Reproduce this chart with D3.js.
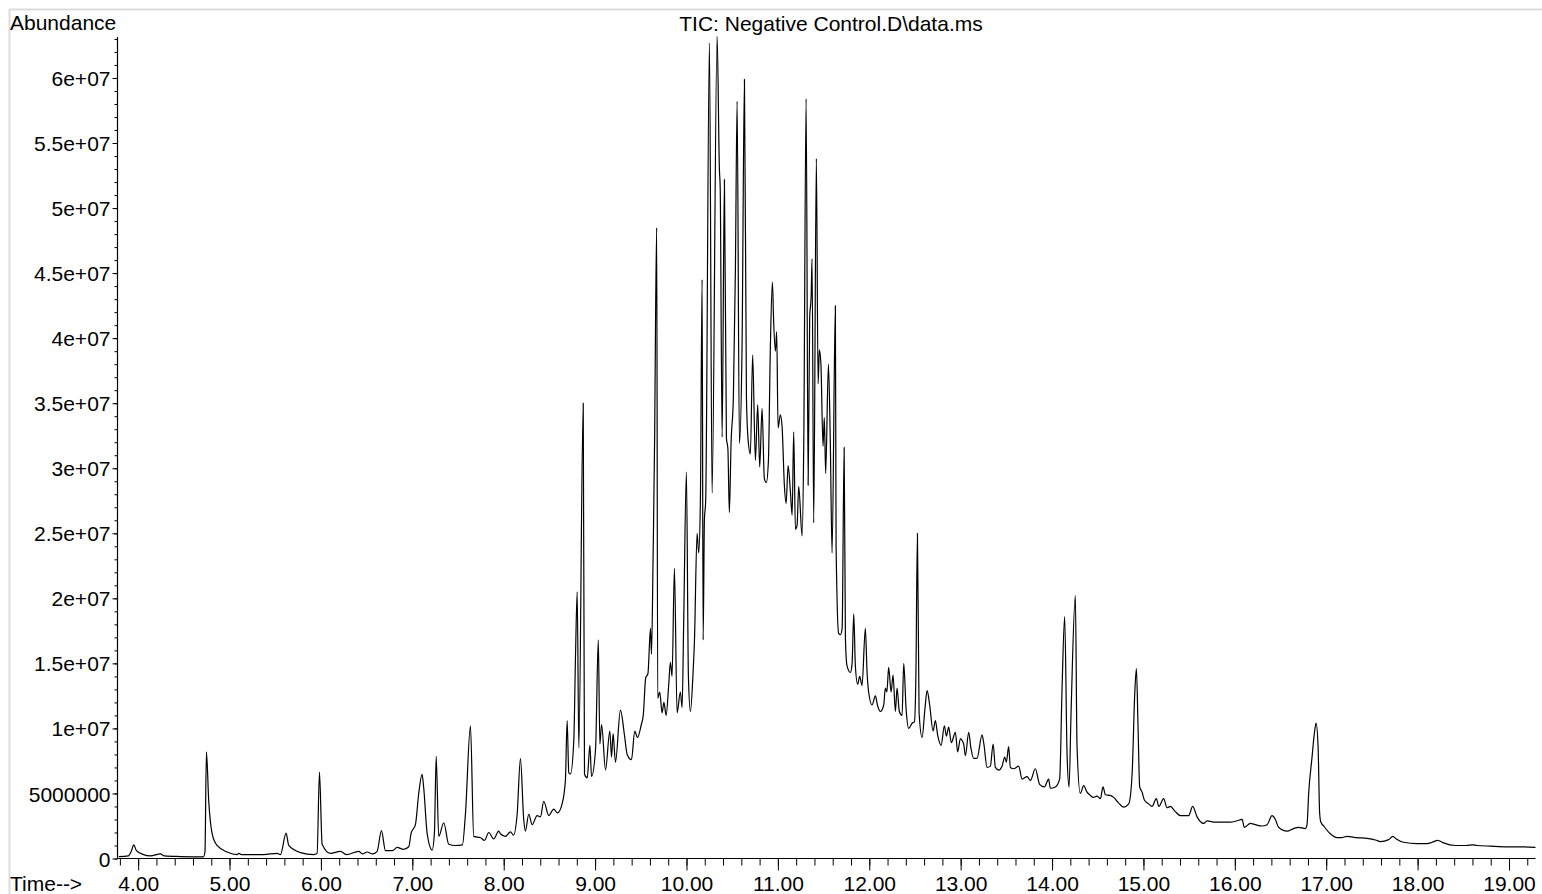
<!DOCTYPE html>
<html>
<head>
<meta charset="utf-8">
<script src="https://cdn.jsdelivr.net/npm/d3@7"></script>
<style>
  html, body { margin: 0; padding: 0; background: #fff; }
  svg { display: block; }
  text { font-family: "Liberation Sans", Arial, sans-serif; fill: #000; }
</style>
</head>
<body>
<svg id="chart" width="1542" height="894"></svg>
<script>
// ---- data (retention time in minutes, abundance in millions) ----
const rtMin = [
3.788,3.894,3.927,3.952,3.981,4.058,4.135,4.244,4.288,4.463,4.714,4.731,4.747,4.772,4.810,4.864,4.974,5.083,5.103,5.130,
5.371,5.521,5.557,5.619,5.648,5.776,5.921,5.958,5.984,6.013,6.104,6.213,6.279,6.414,6.454,6.506,6.564,6.615,6.662,6.706,
6.782,6.834,6.903,6.961,6.987,7.034,7.070,7.107,7.125,7.162,7.217,7.242,7.261,7.289,7.344,7.398,7.472,7.548,7.581,7.636,
7.672,7.747,7.790,7.836,7.891,7.945,
7.964,8.019,8.074,8.107,8.147,8.183,8.219,8.237,8.274,8.311,8.366,8.402,8.438,8.493,8.547,8.588,8.639,8.675,8.694,8.712,
8.731,8.767,8.786,8.804,8.822,8.870,8.884,8.914,8.943,8.961,9.005,9.035,9.052,9.071,9.114,9.161,9.180,9.197,9.223,9.277,
9.321,9.351,9.398,9.434,9.464,9.506,9.527,9.554,9.578,9.606,9.617,9.635,9.652,9.660,9.674,9.685,9.707,9.733,9.753,9.777,
9.805,9.824,9.842,9.868,9.897,9.933,9.952,9.969,9.999,10.021,10.043,10.072,10.087,10.116,10.134,10.152,10.171,10.182,10.196,10.210,
10.251,10.280,10.335,10.360,10.369,10.390,10.415,10.437,10.453,10.469,10.488,10.513,10.535,10.554,10.579,10.608,10.634,10.656,10.674,10.699,
10.724,10.754,10.779,10.801,10.827,10.852,10.874,10.896,10.918,10.940,10.954,10.973,10.987,11.002,11.027,11.046,11.071,11.090,11.112,11.137,
11.156,11.173,11.192,11.210,11.228,11.265,11.283,11.309,11.331,11.348,11.364,11.374,11.392,11.421,11.440,11.454,11.471,11.494,11.508,11.523,
11.553,11.574,11.593,11.629,11.637,11.665,11.684,11.703,11.725,11.739,11.757,11.793,11.812,11.830,11.848,11.873,11.895,11.921,11.957,11.976,
11.993,12.031,12.067,12.089,12.122,12.158,12.176,12.193,12.212,12.239,12.260,12.286,12.304,12.329,12.359,12.377,12.403,12.431,12.468,12.494,
12.510,12.527,12.545,12.578,12.609,12.633,12.661,12.698,12.723,12.748,12.786,12.822,12.844,12.869,12.898,12.942,12.967,12.997,13.033,13.052,
13.088,13.112,13.142,13.179,13.234,13.254,13.289,13.325,13.355,13.380,13.416,13.453,13.482,13.500,13.525,13.544,13.580,13.635,13.672,13.727,
13.763,13.817,13.864,13.916,13.963,13.981,14.036,14.083,14.110,14.138,14.164,14.186,14.208,14.255,14.273,14.309,14.346,14.383,14.419,14.452,
14.493,14.529,14.558,14.584,14.637,14.674,14.725,14.784,14.839,14.876,14.905,14.923,14.941,14.959,14.985,15.010,15.057,15.094,15.141,15.169,
15.221,15.258,15.294,15.349,15.404,15.459,15.495,15.539,15.587,15.659,15.696,15.768,15.878,15.951,16.024,16.079,16.104,16.170,16.224,16.298,
16.353,16.407,16.444,16.479,16.571,16.643,16.698,16.771,16.790,16.808,16.845,16.870,16.889,16.911,16.928,16.941,16.972,17.045,17.118,17.165,
17.228,17.337,17.447,17.549,17.592,17.683,17.729,17.767,17.847,17.994,18.103,18.161,18.221,18.283,18.413,18.534,18.600,18.650,18.795,18.982,
19.163,19.290
];
const abundanceM = [
0.15,0.2,0.6,1.05,0.6,0.3,0.2,0.35,0.2,0.15,0.12,0.5,8.2,4.46,1.9,1.0,0.5,0.3,0.4,0.3,
0.3,0.4,0.3,1.95,1.0,0.45,0.3,0.4,6.64,1.1,0.4,0.55,0.3,0.55,0.35,0.5,0.35,0.55,2.15,0.6,
0.6,0.85,0.7,0.9,1.95,2.6,5.0,6.46,5.4,1.95,0.65,2.0,7.85,1.7,2.75,1.1,1.0,1.05,3.4,10.2,
1.7,1.6,1.4,2.0,1.5,2.1,
1.9,1.7,2.05,1.8,3.4,7.67,3.0,2.1,3.4,2.6,3.3,3.2,4.4,3.3,3.8,3.5,4.2,6.0,10.6,6.6,
6.5,9.1,15.7,20.5,8.5,35.0,6.5,6.2,8.7,6.3,8.4,16.8,8.8,10.3,6.8,9.8,7.8,9.6,7.4,11.4,
9.5,8.0,7.6,9.8,9.3,10.3,11.0,13.9,14.2,17.7,15.7,23.4,32.7,40.0,48.5,12.3,12.8,11.2,12.0,11.0,
13.3,15.1,14.0,22.3,11.2,12.8,11.6,18.0,29.7,14.0,11.3,14.3,16.7,25.0,23.5,27.5,44.5,16.8,26.0,27.5,
62.7,28.1,63.2,53.0,51.5,32.4,52.2,32.3,31.5,26.6,32.0,35.5,45.2,58.2,31.9,39.4,59.9,35.5,32.2,31.1,
38.7,30.6,34.9,30.1,34.6,29.2,28.9,30.5,39.4,44.3,41.2,39.0,40.5,33.1,34.1,33.2,28.7,27.3,30.2,28.2,
26.4,32.8,25.3,25.6,28.6,24.8,31.8,58.4,28.7,41.6,43.2,46.1,25.8,53.8,36.5,39.1,38.0,31.7,33.9,29.6,
38.0,31.9,23.5,42.5,24.0,17.3,17.2,17.7,31.6,16.9,14.8,14.3,15.0,18.8,14.8,13.4,14.0,13.3,17.7,14.3,
12.8,11.8,12.5,11.8,11.3,11.8,13.1,12.8,14.7,12.8,14.1,11.3,13.1,11.3,11.0,15.0,11.5,10.0,10.4,10.5,
14.0,25.0,11.2,9.3,11.5,12.9,11.8,9.8,10.6,9.5,8.7,10.2,9.4,10.1,8.9,9.7,8.2,9.2,8.8,7.9,
9.7,8.5,7.7,7.7,9.5,8.8,7.0,7.1,8.8,7.0,6.8,7.1,7.8,7.4,8.6,7.0,6.9,7.1,6.1,6.3,
6.0,6.9,5.7,5.5,6.1,5.4,5.5,6.1,13.2,18.6,8.1,5.5,11.2,20.2,8.7,5.0,5.6,5.1,4.85,4.7,
4.8,4.6,5.5,4.9,4.85,4.7,4.3,3.95,4.2,6.5,12.7,14.6,10.1,5.5,5.1,4.5,4.2,4.0,4.6,4.0,
4.6,3.9,4.0,3.6,3.3,3.3,3.3,4.0,3.2,2.7,2.9,2.8,2.8,2.8,2.9,3.0,2.4,2.7,2.6,2.5,
2.6,3.3,3.0,2.4,2.1,2.3,2.4,2.3,2.6,5.0,7.8,9.6,10.4,8.6,3.5,2.8,2.5,1.9,1.6,1.6,
1.7,1.6,1.55,1.4,1.3,1.45,1.7,1.5,1.25,1.15,1.15,1.25,1.4,1.2,1.0,1.0,1.05,1.0,0.95,0.9,
0.9,0.85
];
const xMajorTicks = [4,5,6,7,8,9,10,11,12,13,14,15,16,17,18,19];
const xTickLabels = ["4.00","5.00","6.00","7.00","8.00","9.00","10.00","11.00","12.00","13.00","14.00","15.00","16.00","17.00","18.00","19.00"];
const yMajorTicks = [0,5e6,1e7,1.5e7,2e7,2.5e7,3e7,3.5e7,4e7,4.5e7,5e7,5.5e7,6e7];
const yTickLabels = ["0","5000000","1e+07","1.5e+07","2e+07","2.5e+07","3e+07","3.5e+07","4e+07","4.5e+07","5e+07","5.5e+07","6e+07"];
const titleText = "TIC: Negative Control.D\\data.ms";
const yAxisTitle = "Abundance";
const xAxisTitle = "Time-->";

// ---- layout ----
const svg = d3.select("#chart");
const FS = 21;
const x = d3.scaleLinear().domain([3.774, 19.29]).range([117.5, 1535.5]);
const y = d3.scaleLinear().domain([0, 63.15e6]).range([858.5, 37]);

// light frame
svg.append("line").attr("x1", 9).attr("x2", 1542).attr("y1", 9.5).attr("y2", 9.5)
  .attr("stroke", "#dcdcdc").attr("stroke-width", 2);
svg.append("line").attr("x1", 9.5).attr("x2", 9.5).attr("y1", 9).attr("y2", 894)
  .attr("stroke", "#dcdcdc").attr("stroke-width", 2);

// x axis
const xAxisG = svg.append("g").attr("transform", `translate(0,${y(0)})`);
xAxisG.call(d3.axisBottom(x).tickValues(d3.range(3.8, 19.3, 0.2)).tickSize(7).tickFormat(""))
  .call(g => g.select(".domain").remove());
const xAxisMaj = svg.append("g").attr("transform", `translate(0,${y(0)})`);
xAxisMaj.call(d3.axisBottom(x).tickValues(xMajorTicks).tickSize(12)
    .tickFormat((d, i) => xTickLabels[i]).tickPadding(5))
  .call(g => g.select(".domain").remove());
xAxisMaj.selectAll("text").attr("font-size", FS).attr("font-family", "Liberation Sans, Arial, sans-serif")
  .attr("fill", "#000").attr("dy", null).attr("y", 32.5);
svg.selectAll(".tick line").attr("stroke", "#000").attr("stroke-width", 1);
svg.append("line").attr("x1", x.range()[0]).attr("x2", x.range()[1])
  .attr("y1", y(0)).attr("y2", y(0)).attr("stroke", "#000").attr("stroke-width", 1.2);

// y axis
const yMinor = svg.append("g").attr("transform", `translate(${x.range()[0]},0)`);
yMinor.call(d3.axisLeft(y).tickValues(d3.range(0, 63.2e6, 1e6)).tickSize(3).tickFormat(""))
  .call(g => g.select(".domain").remove());
const yMaj = svg.append("g").attr("transform", `translate(${x.range()[0]},0)`);
yMaj.call(d3.axisLeft(y).tickValues(yMajorTicks).tickSize(5)
    .tickFormat((d, i) => yTickLabels[i]).tickPadding(2))
  .call(g => g.select(".domain").remove());
yMaj.selectAll("text").attr("font-size", FS).attr("font-family", "Liberation Sans, Arial, sans-serif")
  .attr("fill", "#000").attr("dy", "0.36em");
svg.selectAll(".tick line").attr("stroke", "#000").attr("stroke-width", 1);
svg.append("line").attr("x1", x.range()[0]).attr("x2", x.range()[0])
  .attr("y1", y.range()[1]).attr("y2", y(0)).attr("stroke", "#000").attr("stroke-width", 1.2);

// trace
const pts = rtMin.map((t, i) => [t, abundanceM[i] * 1e6]);
const line = d3.line().x(d => x(d[0])).y(d => y(d[1])).curve(d3.curveMonotoneX);
svg.append("path").datum(pts).attr("d", line)
  .attr("fill", "none").attr("stroke", "#000").attr("stroke-width", 1.2)
  .attr("stroke-linejoin", "round");

// texts
svg.append("text").attr("x", 10).attr("y", 30).attr("font-size", FS).text(yAxisTitle);
svg.append("text").attr("x", 831).attr("y", 31).attr("font-size", FS)
  .attr("text-anchor", "middle").text(titleText);
svg.append("text").attr("x", 10).attr("y", 891).attr("font-size", FS).text(xAxisTitle);
</script>
</body>
</html>
